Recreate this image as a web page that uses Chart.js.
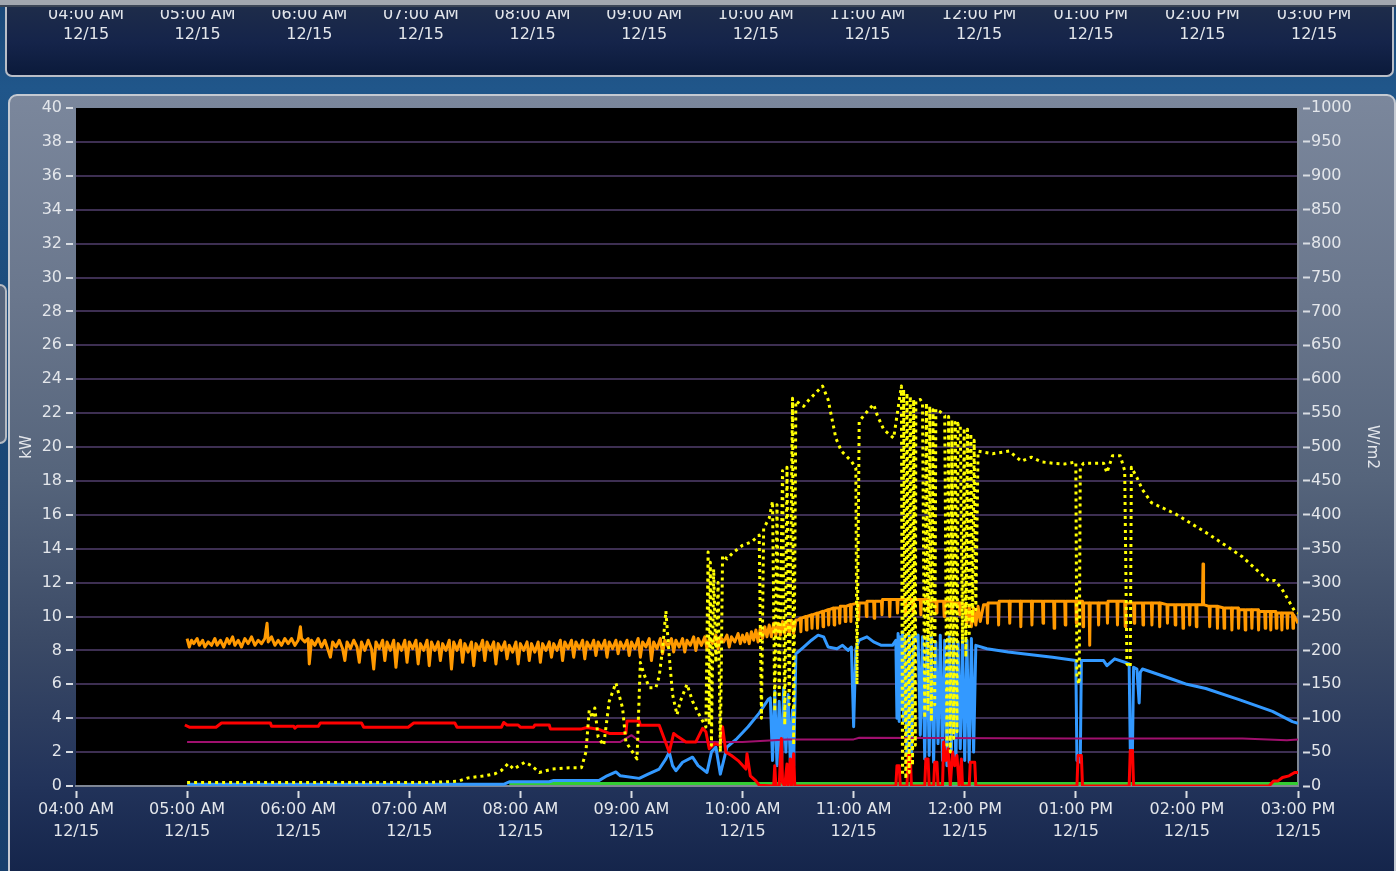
<!DOCTYPE html>
<html>
<head>
<meta charset="utf-8">
<script src="https://cdn.jsdelivr.net/npm/chart.js@4.4.1/dist/chart.umd.min.js"></script>
<style>
  html, body { margin: 0; padding: 0; }
  body {
    width: 1396px; height: 871px; overflow: hidden; position: relative;
    background: linear-gradient(180deg, #1a4777 0%, #20568a 10%, #1b4a7a 40%, #173f6c 100%);
    font-family: "DejaVu Sans", sans-serif;
  }
  #topbar { position: absolute; left: 0; top: 0; width: 1396px; height: 5px; background: #a2a7af; border-bottom: 2px solid #3c4656; z-index: 3; }
  #navPanel {
    position: absolute; left: 5px; top: 2px; width: 1385px; height: 73px;
    border: 2px solid #b9bec7; border-top: none; border-radius: 0 0 7px 7px;
    background: linear-gradient(180deg, #1f2d4a 0%, #15244a 55%, #0b1a3b 100%);
  }
  #sidePanel {
    position: absolute; left: -9px; top: 284px; width: 12px; height: 156px;
    border: 2px solid #b6bbc3; border-radius: 7px; background: #56657c;
  }
  #mainPanel {
    position: absolute; left: 8px; top: 94px; width: 1384px; height: 800px;
    border: 2px solid #c5cad2; border-radius: 9px;
    background: linear-gradient(180deg, #7b879c 0%, #6a778d 25%, #55647b 48%, #3b4a66 68%, #22335a 86%, #112147 100%);
  }
  canvas { position: absolute; left: 0; top: 0; }
  #nav { z-index: 2; clip-path: inset(10px 0 0 0); }
  #main { z-index: 2; }
</style>
</head>
<body>
<div id="navPanel"></div>
<div id="topbar"></div>
<div id="sidePanel"></div>
<div id="mainPanel"></div>
<canvas id="nav" width="1396" height="80"></canvas>
<canvas id="main" width="1396" height="871"></canvas>
<script>
// hour ticks 04:00 .. 15:00
const timeLabels = ['04:00 AM', '05:00 AM', '06:00 AM', '07:00 AM', '08:00 AM', '09:00 AM',
  '10:00 AM', '11:00 AM', '12:00 PM', '01:00 PM', '02:00 PM', '03:00 PM'];
const dateLabel = '12/15';

// [hour, W/m2]
const irradianceWm2 = [
  [5.00,5],[7.17,5],[7.44,7],[7.53,12],[7.68,15],[7.77,18],[7.83,23],[7.89,33],[7.94,25],[8.04,35],
  [8.10,30],[8.17,20],[8.29,25],[8.44,27],[8.55,27],[8.59,50],[8.62,112],[8.65,100],[8.67,115],[8.70,72],
  [8.75,60],[8.80,125],[8.86,152],[8.92,115],[8.95,65],[9.05,40],[9.08,182],[9.12,162],[9.16,145],[9.22,145],
  [9.25,162],[9.28,202],[9.31,258],[9.34,192],[9.37,135],[9.41,105],[9.44,125],[9.50,150],[9.55,125],[9.61,105],
  [9.67,87],[9.69,345],[9.70,90],[9.71,330],[9.72,60],[9.74,320],[9.76,182],[9.78,300],[9.80,50],[9.82,340],
  [9.86,335],[9.92,345],[10.00,355],[10.08,360],[10.15,370],[10.17,100],[10.19,380],[10.24,395],[10.27,420],[10.29,110],
  [10.31,415],[10.33,130],[10.36,465],[10.38,90],[10.40,470],[10.42,120],[10.45,572],[10.46,60],[10.48,568],[10.55,560],
  [10.60,570],[10.66,580],[10.72,590],[10.77,570],[10.84,513],[10.89,494],[10.98,479],[11.02,469],[11.03,150],[11.05,538],
  [11.10,548],[11.18,563],[11.21,548],[11.27,526],[11.36,513],[11.43,590],
  [11.44,15],[11.45,585],[11.47,10],[11.48,580],[11.50,20],[11.51,575],[11.53,30],[11.54,570],[11.555,60],[11.56,568],
  [11.60,570],[11.62,565],
  [11.64,100],[11.655,565],[11.67,110],[11.685,560],[11.70,95],[11.715,555],[11.73,120],[11.74,556],
  [11.78,552],[11.82,546],
  [11.84,60],[11.855,545],[11.87,50],[11.885,540],[11.90,70],[11.915,536],[11.93,80],[11.94,535],
  [11.96,530],
  [11.98,210],[11.995,528],[12.01,190],[12.025,526],[12.04,220],[12.055,520],[12.07,240],[12.085,510],[12.10,260],[12.12,494],
  [12.25,490],[12.40,494],[12.51,479],[12.60,485],[12.69,478],[12.80,476],[12.90,475],[13.00,478],[13.01,160],[13.03,150],
  [13.04,470],[13.07,476],[13.25,476],[13.28,462],[13.33,487],[13.40,487],[13.44,465],[13.46,180],[13.49,175],[13.50,470],
  [13.55,455],[13.60,437],[13.68,418],[13.90,401],[14.20,371],[14.50,338],[14.74,302],[14.79,303],[14.85,292],[14.97,258],
  [15.00,255]
];

// [hour, kW]
const demandKw = [
  [5.00,8.7],[5.02,8.2],[5.04,8.6],[5.06,8.4],[5.09,8.7],[5.11,8.3],[5.14,8.6],[5.16,8.2],[5.19,8.5],[5.22,8.3],
  [5.25,8.7],[5.27,8.3],[5.30,8.6],[5.33,8.2],[5.36,8.7],[5.38,8.4],[5.41,8.8],[5.43,8.3],[5.46,8.6],[5.49,8.2],
  [5.52,8.7],[5.55,8.4],[5.58,8.8],[5.61,8.3],[5.64,8.6],[5.67,8.4],[5.70,8.7],[5.72,9.6],[5.73,8.5],[5.76,8.8],
  [5.79,8.3],[5.82,8.6],[5.85,8.3],[5.88,8.7],[5.91,8.4],[5.94,8.7],[5.97,8.3],[6.00,8.6],[6.02,9.4],[6.03,8.7],
  [6.06,8.5],[6.09,8.7],[6.10,7.2],[6.12,8.6],[6.15,8.3],[6.18,8.7],[6.21,8.2],[6.24,8.6],[6.27,8.0],[6.29,7.6],
  [6.31,8.5],[6.34,8.2],[6.37,8.6],[6.40,8.1],[6.42,7.4],[6.44,8.5],[6.47,8.1],[6.50,8.6],[6.53,8.2],[6.55,7.3],
  [6.57,8.5],[6.60,8.0],[6.63,8.6],[6.66,8.1],[6.68,6.9],[6.70,8.5],[6.73,8.1],[6.76,8.6],[6.78,7.4],[6.80,8.5],
  [6.83,8.0],[6.86,8.6],[6.88,7.0],[6.90,8.4],[6.93,8.0],[6.96,8.6],[6.98,7.3],[7.00,8.5],[7.03,8.1],[7.06,8.6],
  [7.08,7.2],[7.10,8.4],[7.13,8.0],[7.16,8.6],[7.18,7.1],[7.20,8.5],[7.23,8.0],[7.26,8.5],[7.28,7.4],[7.30,8.4],
  [7.33,8.0],[7.36,8.6],[7.38,6.9],[7.40,8.5],[7.43,8.0],[7.46,8.6],[7.48,7.3],[7.50,8.4],[7.53,7.9],[7.56,8.5],
  [7.58,7.1],[7.60,8.4],[7.63,8.0],[7.66,8.6],[7.68,7.4],[7.70,8.5],[7.73,8.0],[7.76,8.5],[7.78,7.2],[7.80,8.4],
  [7.83,8.0],[7.86,8.5],[7.88,7.5],[7.90,8.3],[7.93,7.9],[7.96,8.5],[7.98,7.2],[8.00,8.4],[8.03,8.0],[8.06,8.5],
  [8.08,7.4],[8.10,8.4],[8.13,7.9],[8.16,8.5],[8.18,7.3],[8.20,8.4],[8.23,8.0],[8.26,8.5],[8.28,7.6],[8.30,8.4],
  [8.33,8.0],[8.36,8.6],[8.38,7.4],[8.40,8.5],[8.43,8.1],[8.46,8.6],[8.48,7.6],[8.50,8.5],[8.53,8.1],[8.56,8.6],
  [8.58,7.5],[8.60,8.5],[8.63,8.1],[8.66,8.6],[8.68,7.7],[8.70,8.5],[8.73,8.1],[8.76,8.6],[8.78,7.6],[8.80,8.5],
  [8.83,8.1],[8.86,8.6],[8.88,7.8],[8.90,8.5],[8.93,8.1],[8.96,8.6],[8.98,7.7],[9.00,8.5],[9.03,8.1],[9.06,8.7],
  [9.08,7.6],[9.10,8.5],[9.13,8.2],[9.16,8.7],[9.18,7.4],[9.20,8.5],[9.23,8.1],[9.26,8.7],[9.28,7.8],[9.30,8.6],
  [9.33,8.2],[9.36,8.7],[9.38,7.9],[9.40,8.6],[9.43,8.2],[9.46,8.7],[9.48,7.9],[9.50,8.6],[9.53,8.3],[9.56,8.8],
  [9.58,8.0],[9.60,8.7],[9.63,8.3],[9.66,8.8],[9.68,8.1],[9.70,8.7],[9.73,8.4],[9.76,8.9],[9.78,8.1],[9.80,8.8],
  [9.83,8.5],[9.86,8.9],[9.88,8.2],[9.90,8.8],[9.93,8.5],[9.96,9.0],[9.98,8.4],[10.00,8.9],[10.02,8.5],[10.04,9.0],
  [10.06,8.4],[10.08,9.1],[10.10,8.6],[10.12,9.2],[10.14,8.5],[10.16,9.3],[10.18,8.7],[10.20,9.4],[10.22,8.8],[10.24,9.5],
  [10.26,8.8],[10.28,9.6],[10.30,8.9],[10.32,9.6],[10.34,8.9],[10.36,9.7],[10.38,9.0],[10.40,9.7],[10.42,9.0],[10.44,9.8],
  [10.46,9.0],[10.48,9.8],[10.50,9.8],[10.52,9.9],[10.525,9.1],[10.53,9.9],[10.57,10.0],[10.575,9.2],[10.58,10.0],[10.62,10.1],
  [10.625,9.3],[10.63,10.1],[10.67,10.2],[10.675,9.3],[10.68,10.2],[10.72,10.3],[10.725,9.4],[10.73,10.3],[10.77,10.4],[10.775,9.5],
  [10.78,10.4],[10.82,10.5],[10.825,9.5],[10.83,10.5],[10.87,10.5],[10.875,9.6],[10.88,10.6],[10.92,10.6],[10.925,9.7],[10.93,10.6],
  [10.97,10.7],[10.975,9.7],[10.98,10.7],[11.04,10.8],[11.045,9.8],[11.05,10.8],[11.11,10.8],[11.115,10.0],[11.12,10.9],[11.18,10.9],
  [11.185,9.9],[11.19,10.9],[11.25,10.9],[11.255,10.1],[11.26,11.0],[11.32,11.0],[11.325,10.0],[11.33,11.0],[11.39,11.0],[11.395,10.2],
  [11.40,11.0],[11.46,11.0],[11.465,10.1],[11.47,11.0],[11.53,11.0],[11.535,10.3],[11.54,11.0],[11.60,11.0],[11.605,10.1],[11.61,11.0],
  [11.67,11.0],[11.675,10.4],[11.68,10.9],[11.74,10.9],[11.745,10.2],[11.75,10.9],[11.81,10.9],[11.815,10.0],[11.82,10.9],[11.88,10.9],
  [11.885,10.2],[11.89,10.8],[11.95,10.8],[11.955,10.1],[11.96,10.8],[12.00,10.7],[12.02,9.6],[12.04,10.6],[12.06,9.4],[12.08,10.5],
  [12.10,9.5],[12.12,10.6],[12.14,9.7],[12.17,10.7],[12.20,10.7],[12.205,9.6],[12.21,10.8],[12.30,10.8],[12.305,9.5],[12.31,10.9],
  [12.40,10.9],[12.405,9.6],[12.41,10.9],[12.50,10.9],[12.505,9.4],[12.51,10.9],[12.60,10.9],[12.605,9.5],[12.61,10.9],[12.70,10.9],
  [12.705,9.6],[12.71,10.9],[12.80,10.9],[12.805,9.3],[12.81,10.9],[12.90,10.9],[12.905,9.5],[12.91,10.9],[13.00,10.9],[13.005,9.6],
  [13.01,10.9],[13.06,10.9],[13.065,9.4],[13.07,10.8],[13.12,10.8],[13.125,8.3],[13.13,10.8],[13.20,10.8],[13.205,9.5],[13.21,10.8],
  [13.28,10.8],[13.285,9.6],[13.29,10.9],[13.37,10.9],[13.375,9.5],[13.38,10.9],[13.44,10.9],[13.445,9.4],[13.45,10.8],[13.52,10.8],
  [13.525,9.6],[13.53,10.8],[13.60,10.8],[13.605,9.5],[13.61,10.8],[13.68,10.8],[13.685,9.5],[13.69,10.8],[13.75,10.8],[13.755,9.4],
  [13.76,10.8],[13.82,10.7],[13.825,9.6],[13.83,10.7],[13.89,10.7],[13.895,9.5],[13.90,10.7],[13.96,10.7],[13.965,9.3],[13.97,10.7],
  [14.02,10.7],[14.025,9.5],[14.03,10.7],[14.08,10.7],[14.085,9.4],[14.09,10.7],[14.14,10.7],[14.145,13.1],[14.15,10.7],[14.20,10.6],
  [14.205,9.4],[14.21,10.6],[14.27,10.6],[14.275,9.3],[14.28,10.6],[14.33,10.5],[14.335,9.3],[14.34,10.5],[14.40,10.5],[14.405,9.2],
  [14.41,10.5],[14.46,10.5],[14.465,9.3],[14.47,10.4],[14.52,10.4],[14.525,9.2],[14.53,10.4],[14.58,10.4],[14.585,9.3],[14.59,10.4],
  [14.64,10.4],[14.645,9.2],[14.65,10.3],[14.70,10.3],[14.705,9.3],[14.71,10.3],[14.75,10.3],[14.755,9.2],[14.76,10.3],[14.80,10.3],
  [14.805,9.3],[14.81,10.2],[14.85,10.2],[14.855,9.2],[14.86,10.2],[14.90,10.2],[14.905,9.3],[14.91,10.2],[14.95,10.2],[14.955,9.3],
  [14.96,10.1],[15.00,9.6]
];

const importKw = [
  [4.98,3.6],[5.02,3.47],[5.26,3.47],[5.31,3.72],[5.75,3.72],[5.76,3.52],[5.96,3.52],[5.97,3.41],[5.99,3.52],[6.18,3.52],
  [6.20,3.72],[6.57,3.72],[6.59,3.47],[6.99,3.47],[7.04,3.72],[7.41,3.72],[7.43,3.47],[7.83,3.47],[7.85,3.75],[7.88,3.6],
  [7.98,3.6],[8.00,3.47],[8.12,3.47],[8.13,3.6],[8.26,3.6],[8.27,3.37],[8.55,3.37],[8.60,3.45],[8.70,3.35],[8.80,3.1],
  [8.95,3.1],[8.96,3.83],[9.07,3.83],[9.08,3.59],[9.25,3.59],[9.34,2.0],[9.38,3.1],[9.42,2.9],[9.49,2.6],[9.58,2.6],
  [9.64,3.4],[9.67,3.2],[9.70,2.2],[9.75,2.5],[9.80,2.4],[9.82,3.5],[9.85,2.0],[9.90,1.8],[9.96,1.5],[10.03,1.0],
  [10.04,1.9],[10.07,0.6],[10.12,0.3],[10.15,0.05],[10.28,0.0],[10.29,1.2],[10.30,0.0],[10.33,0.0],[10.34,1.5],[10.35,2.8],
  [10.36,0.2],[10.38,0.0],[10.40,1.3],[10.41,0.0],[10.43,1.6],[10.44,0.0],[10.46,1.9],[10.47,0.0],[11.38,0.0],[11.39,1.2],
  [11.41,1.2],[11.42,0.0],[11.48,0.0],[11.49,1.8],[11.51,1.8],[11.52,0.0],[11.64,0.0],[11.65,1.6],[11.67,1.6],[11.68,0.0],
  [11.72,0.0],[11.73,1.4],[11.75,1.4],[11.76,0.0],[11.80,0.0],[11.81,2.6],[11.83,1.5],[11.85,2.2],[11.87,0.0],[11.89,2.0],
  [11.91,1.2],[11.93,1.8],[11.95,0.0],[11.97,1.6],[11.98,0.0],[12.04,0.0],[12.05,1.4],[12.09,1.4],[12.10,0.0],[13.01,0.0],
  [13.02,1.8],[13.05,1.8],[13.06,0.0],[13.48,0.0],[13.49,2.1],[13.51,2.1],[13.52,0.0],[14.74,0.0],[14.78,0.3],[14.82,0.3],
  [14.86,0.5],[14.92,0.6],[14.97,0.8],[15.00,0.8]
];

const pvKw = [
  [5.00,0.1],[7.85,0.1],[7.90,0.25],[8.26,0.25],[8.30,0.33],[8.71,0.33],[8.78,0.6],[8.86,0.83],[8.90,0.6],[9.07,0.45],
  [9.15,0.7],[9.25,1.0],[9.31,1.6],[9.34,2.0],[9.37,1.2],[9.40,0.9],[9.46,1.4],[9.55,1.7],[9.60,1.2],[9.68,0.8],
  [9.72,2.0],[9.76,2.3],[9.80,0.7],[9.83,1.5],[9.86,2.3],[9.95,2.8],[10.05,3.5],[10.15,4.3],[10.23,5.1],[10.25,5.2],
  [10.27,1.5],[10.29,5.6],[10.31,1.2],[10.33,5.0],[10.35,1.0],[10.37,5.8],[10.39,2.0],[10.41,5.4],[10.43,1.4],[10.45,4.5],
  [10.46,1.2],[10.48,7.8],[10.55,8.2],[10.62,8.6],[10.68,8.9],[10.73,8.8],[10.77,8.2],[10.85,8.1],[10.90,8.3],[10.95,8.0],
  [10.98,8.2],[11.00,3.5],[11.02,8.1],[11.05,8.6],[11.12,8.8],[11.18,8.5],[11.25,8.3],[11.35,8.3],[11.38,8.6],[11.39,4.0],
  [11.40,9.0],[11.41,3.8],[11.42,8.8],[11.43,4.5],[11.44,9.1],[11.45,3.8],[11.46,8.7],[11.48,1.8],[11.50,8.9],[11.52,2.0],
  [11.54,8.9],[11.56,8.6],[11.58,8.9],[11.60,3.0],[11.62,8.8],[11.64,1.6],[11.66,8.7],[11.68,1.8],[11.70,8.8],[11.72,1.4],
  [11.74,8.5],[11.76,2.5],[11.78,8.9],[11.80,1.5],[11.82,8.6],[11.84,1.2],[11.86,8.8],[11.88,2.0],[11.90,8.7],[11.92,1.3],
  [11.94,8.5],[11.96,2.2],[11.98,8.6],[12.00,1.5],[12.02,8.6],[12.04,1.4],[12.06,8.7],[12.08,2.0],[12.10,8.3],[12.20,8.1],
  [12.39,7.9],[12.60,7.75],[12.79,7.6],[13.00,7.4],[13.01,1.5],[13.04,1.4],[13.05,7.4],[13.25,7.4],[13.28,7.1],[13.35,7.5],
  [13.44,7.3],[13.48,7.2],[13.49,2.2],[13.51,2.2],[13.52,7.0],[13.55,6.9],[13.57,4.9],[13.58,6.7],[13.60,6.9],[13.87,6.3],
  [14.00,6.0],[14.17,5.75],[14.47,5.1],[14.77,4.4],[14.95,3.8],[15.00,3.7]
];

const baseKw = [
  [5.00,2.6],[8.90,2.6],[9.00,3.0],[9.08,2.6],[10.00,2.6],[10.40,2.75],[11.00,2.75],[11.05,2.85],[13.00,2.8],[14.50,2.8],
  [14.90,2.7],[15.00,2.75]
];

const exportKw = [[7.90,0.15],[15.00,0.15]];

const tickFont = { family: 'DejaVu Sans', size: 16, lineHeight: 1.375 };
const navFont = { family: 'DejaVu Sans', size: 16, lineHeight: 1.3 };
const labelColor = '#e3e6eb';
const hourLabel = (v) => [timeLabels[Math.round(v - 4)], dateLabel];

// black plotting area behind the lines
const plotBackground = {
  id: 'plotBackground',
  beforeDraw(chart) {
    const { ctx, chartArea: a } = chart;
    ctx.save();
    ctx.fillStyle = '#000';
    ctx.fillRect(a.left, a.top, a.right - a.left, a.bottom - a.top);
    ctx.restore();
  }
};

// navigator strip: only the time axis
new Chart(document.getElementById('nav'), {
  type: 'line',
  data: { datasets: [] },
  options: {
    responsive: false,
    animation: false,
    layout: { padding: { left: 86, right: 82, top: 0, bottom: 0 } },
    plugins: { legend: { display: false }, tooltip: { enabled: false } },
    scales: {
      x: {
        type: 'linear', min: 4, max: 15, position: 'bottom',
        afterFit: (s) => { s.height = 76; },
        border: { display: false },
        grid: { display: false, drawTicks: false },
        ticks: { stepSize: 1, autoSkip: false, maxRotation: 0, padding: 0, color: labelColor, font: navFont, callback: hourLabel }
      },
      y: { display: false }
    }
  }
});

const line = (label, data, color, width, axis) => ({
  label, data, yAxisID: axis || 'y',
  borderColor: color, borderWidth: width,
  pointRadius: 0, tension: 0, borderJoinStyle: 'round', fill: false
});

const irr = line('Irradiance', irradianceWm2, '#ffff00', 3, 'y2');
irr.borderDash = [3, 4];

new Chart(document.getElementById('main'), {
  type: 'line',
  data: {
    datasets: [
      irr,
      line('Demand', demandKw, '#ff9900', 3),
      line('Import', importKw, '#ff0000', 3),
      line('Base', baseKw, '#a0106e', 2),
      line('PV', pvKw, '#3399ff', 3),
      line('Export', exportKw, '#33cc33', 3)
    ]
  },
  options: {
    responsive: false,
    animation: false,
    layout: { padding: { top: 108, left: 0, right: 0, bottom: 0 } },
    plugins: { legend: { display: false }, tooltip: { enabled: false } },
    scales: {
      x: {
        type: 'linear', min: 4, max: 15, position: 'bottom',
        afterFit: (s) => { s.height = 85; },
        border: { color: '#7f8794', width: 2 },
        grid: { drawOnChartArea: false, tickLength: 12, tickColor: '#d9dde3', tickWidth: 2,
                tickBorderDash: [8, 4], tickBorderDashOffset: 8 },
        ticks: { stepSize: 1, autoSkip: false, maxRotation: 0, padding: 1, color: labelColor, font: tickFont, callback: hourLabel }
      },
      y: {
        position: 'left', min: 0, max: 40,
        afterFit: (s) => { s.width = 76; },
        border: { display: false },
        grid: {
          color: (c) => (c.tick && c.tick.value === 40 ? 'rgba(0,0,0,0)' : '#3d2f52'),
          lineWidth: 2, tickLength: 10, tickColor: '#d9dde3', tickWidth: 2,
          tickBorderDash: [7, 3]
        },
        ticks: { stepSize: 2, autoSkip: false, padding: 4, color: labelColor, font: tickFont },
        title: { display: true, text: 'kW', color: labelColor, font: { family: 'DejaVu Sans', size: 15 }, padding: { top: 18 } }
      },
      y2: {
        position: 'right', min: 0, max: 1000,
        afterFit: (s) => { s.width = 98; },
        border: { color: '#7f8794', width: 2 },
        grid: { drawOnChartArea: false, tickLength: 12, tickColor: '#d9dde3', tickWidth: 2,
                tickBorderDash: [7, 4], tickBorderDashOffset: 7 },
        ticks: { stepSize: 50, autoSkip: false, padding: 1, color: labelColor, font: tickFont, callback: (v) => String(v) },
        title: { display: true, text: 'W/m2', color: labelColor, font: { family: 'DejaVu Sans', size: 15 }, padding: { top: 15 } }
      }
    }
  },
  plugins: [plotBackground]
});
</script>
</body>
</html>
